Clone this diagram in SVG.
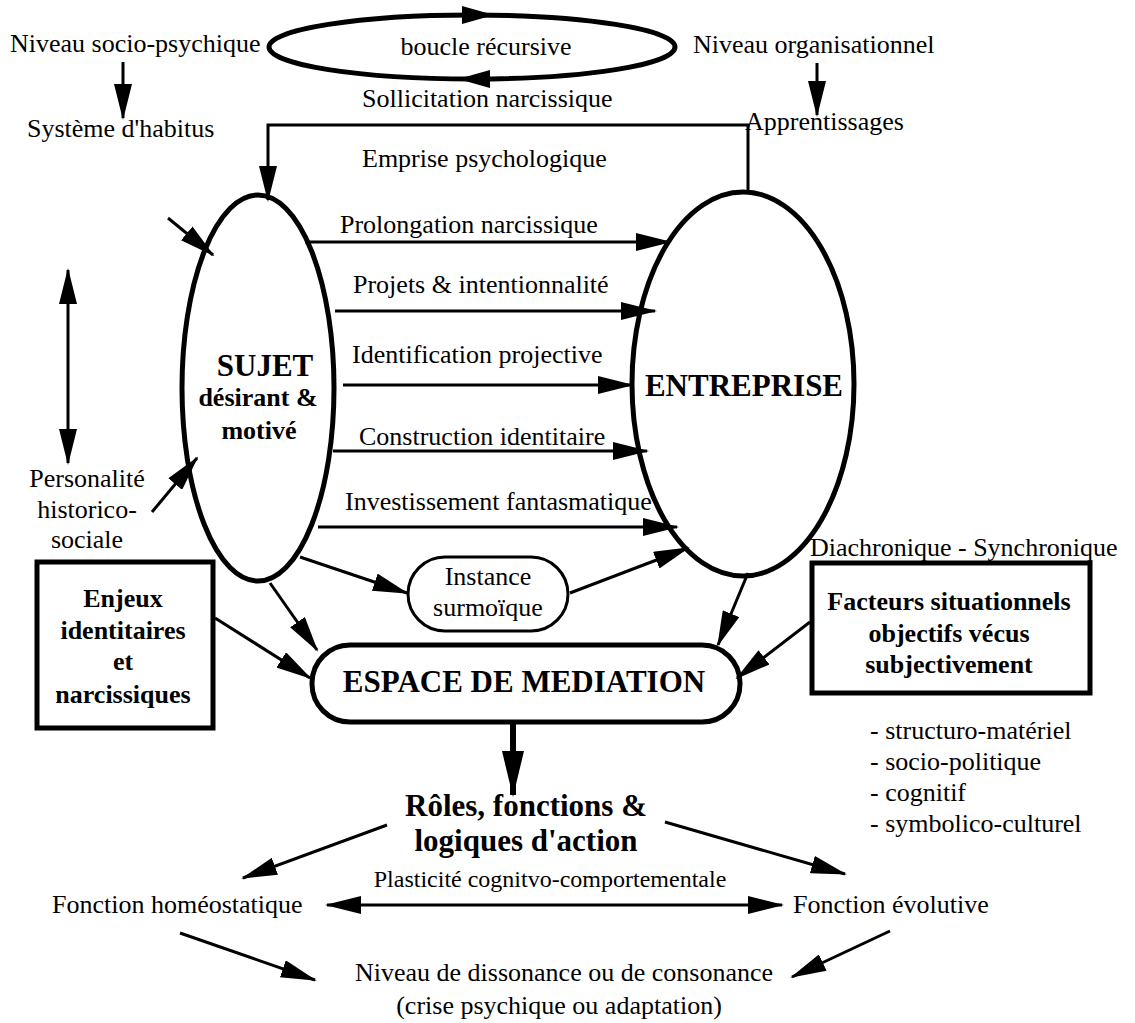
<svg xmlns="http://www.w3.org/2000/svg" width="1135" height="1023" viewBox="0 0 1135 1023">
<defs>
<style>
text{font-family:"Liberation Serif","Times New Roman",serif;fill:#000}
.t{font-size:26px}
.s{font-size:24px}
.b{font-size:26px;font-weight:bold}
.bb{font-size:31px;font-weight:bold}
.c{text-anchor:middle}
.ln{stroke:#000;stroke-width:3;fill:none;marker-end:url(#ah)}
.dbl{marker-start:url(#ah)}
.thick{stroke:#000;stroke-width:6;fill:none;marker-end:url(#ahBig)}
.shape{fill:#fff;stroke:#000;stroke-width:5}
.thin{fill:#fff;stroke:#000;stroke-width:3}
</style>
<marker id="ah" markerUnits="userSpaceOnUse" markerWidth="36" markerHeight="18" refX="34" refY="9" orient="auto-start-reverse"><path d="M0,0 L36,9 L0,18 Z" fill="#000"/></marker>
<marker id="ahBig" markerUnits="userSpaceOnUse" markerWidth="46" markerHeight="22" refX="44" refY="11" orient="auto"><path d="M0,0 L46,11 L0,22 Z" fill="#000"/></marker>
</defs>
<rect width="1135" height="1023" fill="#fff"/>

<g id="boucle">
<ellipse cx="472" cy="47" rx="203" ry="32" fill="none" stroke="#000" stroke-width="5"/>
<polygon points="462,6 494,15 462,24" fill="#000"/>
<polygon points="458,79 490,70 490,88" fill="#000"/>
<text class="t c" x="486" y="55">boucle récursive</text>
</g>

<g id="niveau-socio"><text class="t" x="10" y="52">Niveau socio-psychique</text></g>
<g id="habitus"><text class="t" x="27" y="137">Système d'habitus</text></g>
<g id="niveau-org"><text class="t" x="693" y="53">Niveau organisationnel</text></g>
<g id="apprentissages"><text class="t" x="745" y="130">Apprentissages</text></g>

<g id="sujet">
<ellipse class="shape" cx="258" cy="388" rx="76" ry="193"/>
<text class="c" x="265" y="376" style="font-size:31px;font-weight:bold">SUJET</text>
<text class="b c" x="258" y="406">désirant &amp;</text>
<text class="b c" x="259" y="439">motivé</text>
</g>

<g id="entreprise">
<ellipse class="shape" cx="743" cy="384" rx="111" ry="192"/>
<text class="bb c" x="744" y="396">ENTREPRISE</text>
</g>

<g id="personalite">
<text class="t c" x="87" y="487">Personalité</text>
<text class="t c" x="87" y="518">historico-</text>
<text class="t c" x="87" y="548">sociale</text>
</g>

<g id="instance">
<rect class="thin" x="408" y="557" width="160" height="74" rx="37"/>
<text class="t c" x="488" y="585">Instance</text>
<text class="t c" x="488" y="616">surmoïque</text>
</g>

<g id="espace">
<rect class="shape" x="312" y="645" width="428" height="77" rx="38"/>
<text class="bb c" x="524" y="692">ESPACE DE MEDIATION</text>
</g>

<g id="enjeux">
<rect class="shape" x="37" y="562" width="176" height="166"/>
<text class="b c" x="123" y="607">Enjeux</text>
<text class="b c" x="123" y="639">identitaires</text>
<text class="b c" x="123" y="670">et</text>
<text class="b c" x="123" y="703">narcissiques</text>
</g>

<g id="facteurs">
<rect class="shape" x="812" y="563" width="278" height="130"/>
<text class="b c" x="949" y="610">Facteurs situationnels</text>
<text class="b c" x="949" y="642">objectifs vécus</text>
<text class="b c" x="949" y="673">subjectivement</text>
</g>

<g id="diachronique"><text class="t" x="810" y="556">Diachronique - Synchronique</text></g>

<g id="liste">
<text class="t" x="870" y="739">- structuro-matériel</text>
<text class="t" x="870" y="770">- socio-politique</text>
<text class="t" x="870" y="801">- cognitif</text>
<text class="t" x="870" y="832">- symbolico-culturel</text>
</g>

<g id="roles">
<text class="bb c" x="526" y="816">Rôles, fonctions &amp;</text>
<text class="bb c" x="526" y="851">logiques d'action</text>
</g>

<g id="homeostatique"><text class="t" x="52" y="913">Fonction homéostatique</text></g>
<g id="evolutive"><text class="t" x="793" y="913">Fonction évolutive</text></g>

<g id="dissonance">
<text class="t c" x="564" y="981">Niveau de dissonance ou de consonance</text>
<text class="t c" x="559" y="1014">(crise psychique ou adaptation)</text>
</g>

<g id="connectors">
<line class="ln" x1="123" y1="62" x2="123" y2="118"/>
<line class="ln" x1="817" y1="63" x2="817" y2="115"/>
<text class="t" x="362" y="107">Sollicitation narcissique</text>
<polyline class="ln" points="748,192 748,125 268,125 268,200"/>
<text class="t" x="362" y="167">Emprise psychologique</text>

<line class="ln" x1="168" y1="218" x2="213" y2="255"/>
<line class="ln dbl" x1="68" y1="270" x2="68" y2="463"/>
<line class="ln" x1="152" y1="512" x2="197" y2="458"/>

<line class="ln" x1="305" y1="242" x2="670" y2="242"/>
<text class="t" x="340" y="233">Prolongation narcissique</text>
<line class="ln" x1="335" y1="311" x2="655" y2="311"/>
<text class="t" x="353" y="293">Projets &amp; intentionnalité</text>
<line class="ln" x1="343" y1="385" x2="632" y2="385"/>
<text class="t" x="352" y="363">Identification projective</text>
<line class="ln" x1="333" y1="451" x2="647" y2="451"/>
<text class="t" x="359" y="445">Construction identitaire</text>
<line class="ln" x1="318" y1="527" x2="677" y2="527"/>
<text class="t" x="345" y="510">Investissement fantasmatique</text>

<line class="ln" x1="300" y1="557" x2="407" y2="593"/>
<line class="ln" x1="570" y1="593" x2="688" y2="548"/>
<line class="ln" x1="270" y1="583" x2="317" y2="650"/>
<line class="ln" x1="215" y1="618" x2="310" y2="678"/>
<line class="ln" x1="748" y1="573" x2="718" y2="645"/>
<line class="ln" x1="810" y1="622" x2="737" y2="678"/>
<line class="thick" x1="513" y1="722" x2="513" y2="795"/>

<line class="ln" x1="387" y1="825" x2="243" y2="878"/>
<line class="ln" x1="665" y1="822" x2="845" y2="874"/>
<line class="ln dbl" x1="327" y1="905" x2="782" y2="905"/>
<text class="s c" x="550" y="887">Plasticité cognitvo-comportementale</text>
<line class="ln" x1="180" y1="933" x2="315" y2="980"/>
<line class="ln" x1="890" y1="931" x2="792" y2="977"/>
</g>
</svg>
